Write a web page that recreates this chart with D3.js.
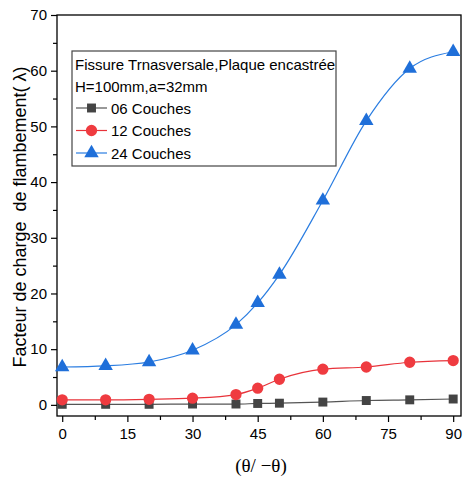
<!DOCTYPE html>
<html>
<head>
<meta charset="utf-8">
<script src="https://cdn.jsdelivr.net/npm/d3@7"></script>
<style>
  body { margin: 0; background: #fff; }
  svg { font-family: "Liberation Sans", Arial, sans-serif; }
</style>
</head>
<body>
<div id="chart"></div>
<script>
// angles (deg)
const angles = [0, 10, 20, 30, 40, 45, 50, 60, 70, 80, 90];
const couches06 = [0.1, 0.1, 0.1, 0.15, 0.15, 0.25, 0.3, 0.5, 0.78, 0.9, 1.05];
const couches12 = [0.9, 0.9, 1.0, 1.2, 1.85, 3.0, 4.6, 6.4, 6.8, 7.65, 7.95];
const couches24 = [6.8, 7.0, 7.7, 9.8, 14.4, 18.3, 23.4, 36.7, 51.0, 60.4, 63.4];
const xTicks = [0, 15, 30, 45, 60, 75, 90];
const yTicks = [0, 10, 20, 30, 40, 50, 60, 70];
const legendTitle = ["Fissure Trnasversale,Plaque encastrée", "H=100mm,a=32mm"];

const w = 464, h = 481;
const margin = { top: 15, right: 3, bottom: 65, left: 57 };

const series = [
  { name: "06 Couches", values: couches06, line: "#555", fill: "#444", shape: d3.symbolSquare, size: 80 },
  { name: "12 Couches", values: couches12, line: "#e8333a", fill: "#ef3b40", shape: d3.symbolCircle, size: 100 },
  { name: "24 Couches", values: couches24, line: "#2a7de1", fill: "#1f6fd9", shape: d3.symbolTriangle, size: 90 }
];

const svg = d3.select("#chart").append("svg")
  .attr("width", w).attr("height", h);

const x = d3.scaleLinear().domain([-1.2, 91.8]).range([margin.left, w - margin.right]);
const y = d3.scaleLinear().domain([-2, 70]).range([h - margin.bottom, margin.top]);

// frame
svg.append("rect")
  .attr("x", margin.left).attr("y", margin.top)
  .attr("width", w - margin.right - margin.left)
  .attr("height", h - margin.bottom - margin.top)
  .attr("fill", "none").attr("stroke", "#000").attr("stroke-width", 1.3);

// axes
svg.append("g")
  .attr("transform", `translate(0,${h - margin.bottom})`)
  .call(d3.axisBottom(x).tickValues(xTicks).tickSize(6).tickPadding(6));
svg.append("g")
  .attr("transform", `translate(0,${h - margin.bottom})`)
  .call(d3.axisBottom(x).tickValues(d3.range(7.5, 90, 15)).tickSize(4).tickFormat(""));
svg.append("g")
  .attr("transform", `translate(${margin.left},0)`)
  .call(d3.axisLeft(y).tickValues(yTicks).tickSize(6).tickPadding(4));
svg.append("g")
  .attr("transform", `translate(${margin.left},0)`)
  .call(d3.axisLeft(y).tickValues(d3.range(5, 70, 10)).tickSize(4).tickFormat(""));

svg.selectAll(".domain").remove();
svg.selectAll(".tick line").attr("stroke", "#000").attr("stroke-width", 1.2);
svg.selectAll(".tick text").attr("font-size", 15).attr("fill", "#000")
  .style("font-family", "'Liberation Sans', Arial, sans-serif");

// axis titles
svg.append("text")
  .attr("transform", `translate(26,217) rotate(-90)`)
  .attr("text-anchor", "middle")
  .attr("font-size", 18)
  .attr("fill", "#000")
  .style("white-space", "pre")
  .text("Facteur de charge  de flambement( λ)");

svg.append("text")
  .attr("x", 261).attr("y", 472)
  .attr("text-anchor", "middle")
  .style("font-family", "'Liberation Serif', 'Times New Roman', serif")
  .style("white-space", "pre")
  .attr("font-size", 19)
  .attr("fill", "#000")
  .text("(θ/ −θ)");

// lines
const line = d3.line()
  .x((d, i) => x(angles[i]))
  .y(d => y(d))
  .curve(d3.curveMonotoneX);

series.forEach(s => {
  svg.append("path")
    .datum(s.values)
    .attr("fill", "none")
    .attr("stroke", s.line)
    .attr("stroke-width", 1.2)
    .attr("d", line);
});

series.forEach(s => {
  svg.append("g").selectAll("path")
    .data(s.values)
    .join("path")
    .attr("transform", (d, i) => `translate(${x(angles[i])},${y(d)})`)
    .attr("d", d3.symbol().type(s.shape).size(s.size))
    .attr("fill", s.fill);
});

// legend
const lg = svg.append("g").attr("transform", "translate(72,51)");
lg.append("rect")
  .attr("width", 264).attr("height", 115)
  .attr("fill", "#fff").attr("stroke", "#444").attr("stroke-width", 1.2);
legendTitle.forEach((t, i) => {
  lg.append("text")
    .attr("x", 3).attr("y", 19 + i * 22)
    .attr("font-size", 15)
    .text(t);
});
series.forEach((s, i) => {
  const cy = 57 + i * 22.5;
  lg.append("line")
    .attr("x1", 4).attr("x2", 35).attr("y1", cy).attr("y2", cy)
    .attr("stroke", s.line).attr("stroke-width", 1.2);
  lg.append("path")
    .attr("transform", `translate(19.5,${cy})`)
    .attr("d", d3.symbol().type(s.shape).size(s.size))
    .attr("fill", s.fill);
  lg.append("text")
    .attr("x", 39).attr("y", cy + 5.5)
    .attr("font-size", 15)
    .text(s.name);
});
</script>
</body>
</html>
